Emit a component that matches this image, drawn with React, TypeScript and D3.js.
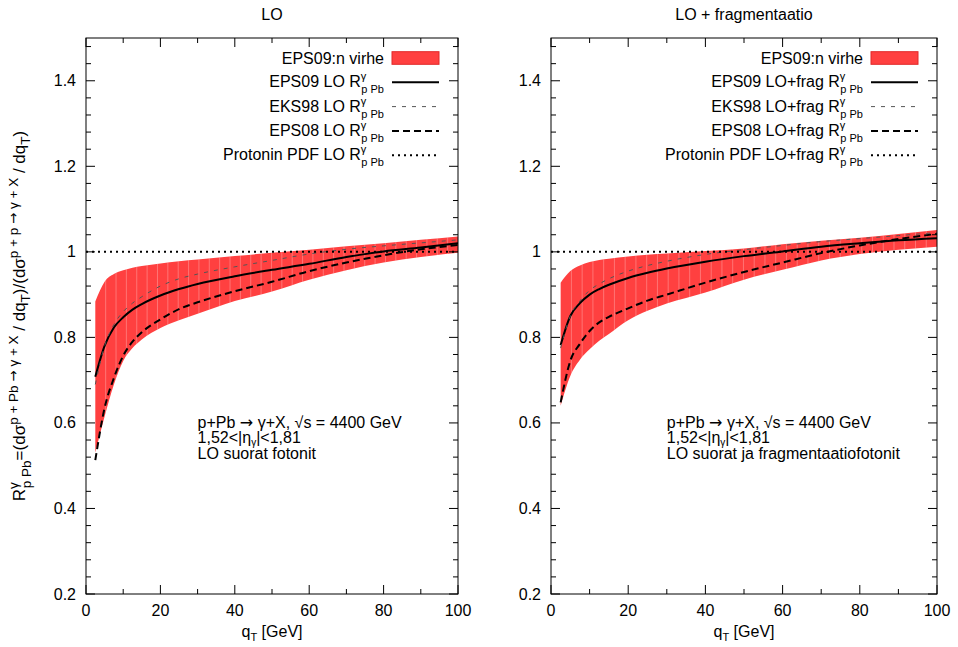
import React from "react";
import * as d3 from "d3";

const FONT = "'Liberation Sans', Arial, Helvetica, sans-serif";
const ARROW_FONT = "'DejaVu Sans', sans-serif";

// transverse momentum sample points (GeV)
const qT = [2.5, 5, 7.5, 10, 12.5, 15, 20, 25, 30, 40, 50, 60, 70, 80, 90, 100];

// LO panel
const loBandUpper = [0.884, 0.93, 0.948, 0.957, 0.963, 0.967, 0.973, 0.978, 0.982, 0.99, 0.998, 1.005, 1.013, 1.02, 1.028, 1.036];
const loBandLower = [0.53, 0.615, 0.69, 0.745, 0.775, 0.795, 0.822, 0.84, 0.855, 0.885, 0.907, 0.935, 0.957, 0.975, 0.988, 0.998];
const loEPS09 = [0.708, 0.78, 0.823, 0.847, 0.865, 0.878, 0.898, 0.913, 0.925, 0.943, 0.958, 0.972, 0.988, 1.001, 1.01, 1.02];
const loEKS98 = [0.69, 0.78, 0.83, 0.86, 0.88, 0.895, 0.92, 0.937, 0.948, 0.965, 0.98, 0.995, 1.006, 1.014, 1.021, 1.028];
const loEPS08 = [0.513, 0.635, 0.705, 0.757, 0.79, 0.812, 0.842, 0.866, 0.882, 0.908, 0.93, 0.955, 0.975, 0.992, 1.006, 1.016];
const loProton = [1, 1, 1, 1, 1, 1, 1, 1, 1, 1, 1, 1, 1, 1, 1, 1];

// LO + fragmentation panel
const frBandUpper = [0.928, 0.955, 0.968, 0.976, 0.981, 0.984, 0.989, 0.993, 0.996, 1.002, 1.008, 1.018, 1.026, 1.033, 1.042, 1.051];
const frBandLower = [0.64, 0.71, 0.748, 0.772, 0.792, 0.808, 0.84, 0.862, 0.879, 0.905, 0.935, 0.958, 0.98, 0.995, 1.005, 1.012];
const frEPS09 = [0.782, 0.85, 0.88, 0.9, 0.913, 0.923, 0.939, 0.951, 0.961, 0.977, 0.99, 1.001, 1.012, 1.02, 1.027, 1.032];
const frEKS98 = [0.775, 0.85, 0.885, 0.91, 0.925, 0.937, 0.955, 0.968, 0.978, 0.994, 1.005, 1.015, 1.024, 1.031, 1.038, 1.045];
const frEPS08 = [0.648, 0.745, 0.785, 0.815, 0.835, 0.848, 0.868, 0.886, 0.9, 0.928, 0.953, 0.975, 0.997, 1.015, 1.03, 1.042];
const frProton = [1, 1, 1, 1, 1, 1, 1, 1, 1, 1, 1, 1, 1, 1, 1, 1];

const xTicks = [0, 20, 40, 60, 80, 100];
const xMinorTicks = [10, 30, 50, 70, 90];
const yTicks = [0.2, 0.4, 0.6, 0.8, 1, 1.2, 1.4];
const yTickLabels = ["0.2", "0.4", "0.6", "0.8", "1", "1.2", "1.4"];

const loLegend = ["EPS09 LO R", "EKS98 LO R", "EPS08 LO R", "Protonin PDF LO R"];
const frLegend = ["EPS09 LO+frag R", "EKS98 LO+frag R", "EPS08 LO+frag R", "Protonin PDF LO+frag R"];

const RED = "rgb(255,64,64)";
const LINE_STYLES = [
  { stroke: "#000", width: 2, dash: "none" },
  { stroke: "#555", width: 1, dash: "4 6" },
  { stroke: "#000", width: 2, dash: "7 4" },
  { stroke: "#000", width: 2, dash: "2 4" },
];

const TOP = 38;
const BOTTOM = 594;

type PanelProps = {
  id: string;
  x0: number;
  x1: number;
  title: string;
  legend: string[];
  upper: number[];
  lower: number[];
  series: number[][];
  note: string;
};

function Panel({ id, x0, x1, title, legend, upper, lower, series, note }: PanelProps) {
  const x = d3.scaleLinear().domain([0, 100]).range([x0, x1]);
  const y = d3.scaleLinear().domain([0.2, 1.5]).range([BOTTOM, TOP]);
  const yMinor = d3.range(0.24, 1.5, 0.04).filter((v) => Math.abs(v / 0.2 - Math.round(v / 0.2)) > 0.01);

  const area = d3
    .area<number>()
    .x((_, i) => x(qT[i]))
    .y0((_, i) => y(lower[i]))
    .y1((d) => y(d))
    .curve(d3.curveMonotoneX);
  const line = d3
    .line<number>()
    .x((_, i) => x(qT[i]))
    .y((d) => y(d))
    .curve(d3.curveMonotoneX);

  const seams = d3.range(qT[0], 100, (100 - qT[0]) / 35).slice(1);
  const cx = (x0 + x1) / 2;
  const legRight = x1 - 19;
  const sampleX0 = legRight - 47;
  const textRight = sampleX0 - 8;
  const rowY = (i: number) => 58 + i * 24.3;

  const MAJ = 9;
  const MIN = 5;

  return (
    <g>
      <defs>
        <clipPath id={`band-${id}`}>
          <path d={area(upper) || ""} />
        </clipPath>
        <clipPath id={`plot-${id}`}>
          <rect x={x0} y={TOP} width={x1 - x0} height={BOTTOM - TOP} />
        </clipPath>
      </defs>
      <text x={cx} y={20} textAnchor="middle" fontSize={16}>{title}</text>

      <g clipPath={`url(#plot-${id})`}>
        <path d={area(upper) || ""} fill={RED} stroke="none" />
        <g clipPath={`url(#band-${id})`}>
          {seams.map((q, i) => (
            <line key={i} x1={x(q)} x2={x(q)} y1={TOP} y2={BOTTOM} stroke="#fff" strokeOpacity={0.35} strokeWidth={0.8} />
          ))}
        </g>
        {series.map((s, i) =>
          i === 3 ? (
            <line key={i} x1={x0} x2={x1} y1={y(s[0])} y2={y(s[0])} stroke={LINE_STYLES[i].stroke}
              strokeWidth={LINE_STYLES[i].width} strokeDasharray={LINE_STYLES[i].dash} />
          ) : (
            <path key={i} d={line(s) || ""} fill="none" stroke={LINE_STYLES[i].stroke}
              strokeWidth={LINE_STYLES[i].width} strokeDasharray={LINE_STYLES[i].dash} />
          )
        )}
      </g>

      {/* frame */}
      <rect x={x0} y={TOP} width={x1 - x0} height={BOTTOM - TOP} fill="none" stroke="#000" strokeWidth={1} />

      {/* x ticks */}
      {xTicks.map((t) => (
        <g key={`xt${t}`}>
          <line x1={x(t)} x2={x(t)} y1={BOTTOM} y2={BOTTOM - MAJ} stroke="#000" />
          <line x1={x(t)} x2={x(t)} y1={TOP} y2={TOP + MAJ} stroke="#000" />
          <text x={x(t)} y={616} textAnchor="middle" fontSize={16}>{t}</text>
        </g>
      ))}
      {xMinorTicks.map((t) => (
        <g key={`xm${t}`}>
          <line x1={x(t)} x2={x(t)} y1={BOTTOM} y2={BOTTOM - MIN} stroke="#000" />
          <line x1={x(t)} x2={x(t)} y1={TOP} y2={TOP + MIN} stroke="#000" />
        </g>
      ))}
      {/* y ticks */}
      {yTicks.map((t, i) => (
        <g key={`yt${t}`}>
          <line x1={x0} x2={x0 + MAJ} y1={y(t)} y2={y(t)} stroke="#000" />
          <line x1={x1} x2={x1 - MAJ} y1={y(t)} y2={y(t)} stroke="#000" />
          <text x={x0 - 10} y={y(t) + 5.5} textAnchor="end" fontSize={16}>{yTickLabels[i]}</text>
        </g>
      ))}
      {yMinor.map((t, i) => (
        <g key={`ym${i}`}>
          <line x1={x0} x2={x0 + MIN} y1={y(t)} y2={y(t)} stroke="#000" />
          <line x1={x1} x2={x1 - MIN} y1={y(t)} y2={y(t)} stroke="#000" />
        </g>
      ))}

      {/* x label */}
      <text x={cx} y={637} textAnchor="middle" fontSize={16}>
        q<tspan fontSize={11} dy={4}>T</tspan>
        <tspan dy={-4}> [GeV]</tspan>
      </text>

      {/* legend */}
      <text x={textRight} y={rowY(0) + 5.5} textAnchor="end" fontSize={16}>EPS09:n virhe</text>
      <rect x={sampleX0} y={rowY(0) - 6.3} width={47} height={12.6} fill={RED} stroke="rgb(225,40,40)" strokeWidth={1} />
      {legend.map((lab, i) => (
        <g key={`lg${i}`}>
          <text x={textRight} y={rowY(i + 1) + 5} textAnchor="end" fontSize={16}>
            {lab}
            <tspan fontSize={11} dy={-7}>γ</tspan>
            <tspan fontSize={11} dx={-5} dy={13}>p Pb</tspan>
          </text>
          <line x1={sampleX0} x2={legRight} y1={rowY(i + 1)} y2={rowY(i + 1)}
            stroke={LINE_STYLES[i].stroke} strokeWidth={LINE_STYLES[i].width} strokeDasharray={LINE_STYLES[i].dash} />
        </g>
      ))}

      {/* annotation */}
      <text x={x(30)} y={427.5} fontSize={16}>
        p+Pb <tspan fontFamily={ARROW_FONT}>→</tspan> γ+X, √s = 4400 GeV
      </text>
      <text x={x(30)} y={443} fontSize={16}>
        1,52&lt;|η<tspan fontSize={10} dy={3}>γ</tspan>
        <tspan dy={-3}>|&lt;1,81</tspan>
      </text>
      <text x={x(30)} y={459} fontSize={16}>{note}</text>
    </g>
  );
}

export default function App() {
  return (
    <svg width={958} height={647} viewBox="0 0 958 647" style={{ display: "block", position: "absolute", left: 0, top: 0, background: "#fff" }}
      fontFamily={FONT}>
      <rect width={958} height={647} fill="#fff" />
      {/* y axis label */}
      <text transform="translate(25,316) rotate(-90)" textAnchor="middle" fontSize={17}>
        R<tspan fontSize={13.5} dy={-7}>γ</tspan>
        <tspan fontSize={13.5} dx={-6} dy={13}>p Pb</tspan>
        <tspan dy={-6}>=(dσ</tspan>
        <tspan fontSize={13.5} dy={-7}>p + Pb <tspan fontFamily={ARROW_FONT}>→</tspan> γ + X</tspan>
        <tspan dy={7}> / dq</tspan>
        <tspan fontSize={13.5} dy={5}>T</tspan>
        <tspan dy={-5}>)/(dσ</tspan>
        <tspan fontSize={13.5} dy={-7}>p + p <tspan fontFamily={ARROW_FONT}>→</tspan> γ + X</tspan>
        <tspan dy={7}> / dq</tspan>
        <tspan fontSize={13.5} dy={5}>T</tspan>
        <tspan dy={-5}>)</tspan>
      </text>
      <Panel id="lo" x0={86} x1={458} title="LO" legend={loLegend}
        upper={loBandUpper} lower={loBandLower} series={[loEPS09, loEKS98, loEPS08, loProton]}
        note="LO suorat fotonit" />
      <Panel id="fr" x0={551} x1={937} title="LO + fragmentaatio" legend={frLegend}
        upper={frBandUpper} lower={frBandLower} series={[frEPS09, frEKS98, frEPS08, frProton]}
        note="LO suorat ja fragmentaatiofotonit" />
    </svg>
  );
}
